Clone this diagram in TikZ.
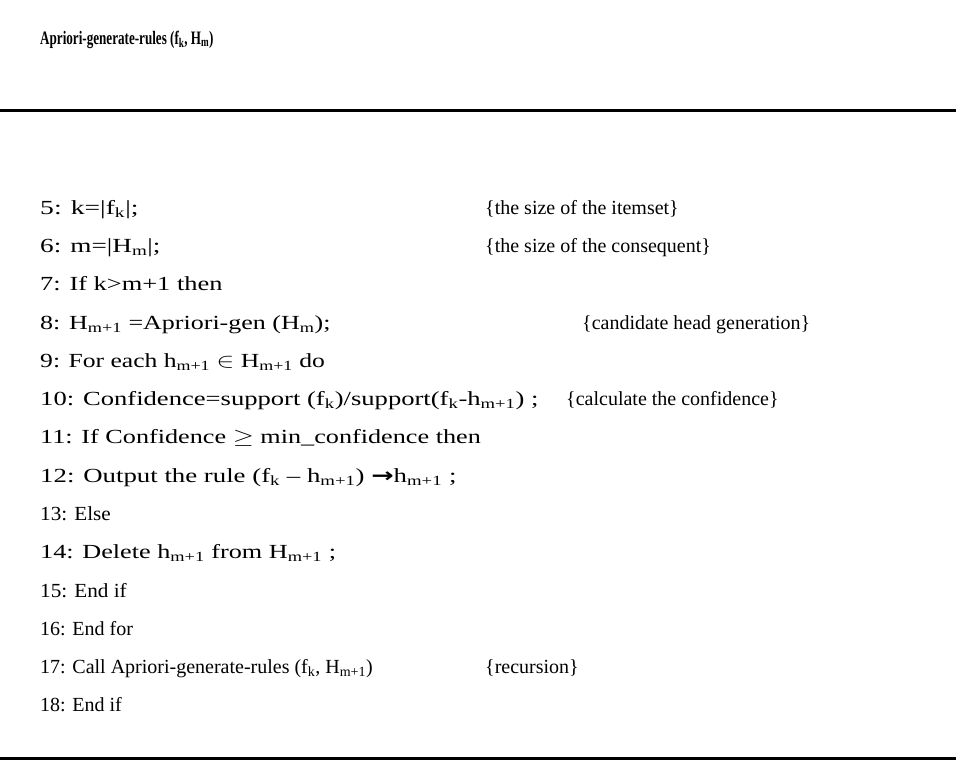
\documentclass[tikz,border=0pt]{standalone}
\usepackage{graphicx}
\usepackage{fontspec}
\setmainfont{Liberation Serif}
\newfontfamily\symfont{DejaVu Sans}
\newcommand{\sbs}[1]{\textsubscript{#1}}
% horizontally stretched text, glyph height unchanged
\newcommand{\stretchx}[2]{\scalebox{#1}[1]{#2}}
\begin{document}
\begin{tikzpicture}[x=1pt,y=-1pt,
  codeline/.style={anchor=base west,inner sep=0pt,font=\fontsize{20}{24}\selectfont},
  remark/.style={codeline},
  heading/.style={anchor=base west,inner sep=0pt,font=\fontsize{19}{22}\selectfont\bfseries},
  rulebar/.style={line width=3pt}]
\useasboundingbox (0,0) rectangle (956,782);
\fill[white] (0,0) rectangle (956,782);

% procedure header and rules
\node[heading] (title) at (40,44) {\stretchx{0.69}{Apriori-generate-rules (f\sbs{k}, H\sbs{m})}};
\coordinate (topL) at (0,110);
\coordinate (topR) at (956,110);
\coordinate (botL) at (0,758);
\coordinate (botR) at (956,758);
\draw[rulebar] (topL) -- (topR);
\draw[rulebar] (botL) -- (botR);

% numbered steps
\node[codeline] (l5)  at (40,214) {\stretchx{1.38}{5: k=|f\sbs{k}|;}};
\node[codeline] (l6)  at (40,252) {\stretchx{1.36}{6: m=|H\sbs{m}|;}};
\node[codeline] (l7)  at (40,290) {\stretchx{1.32}{7: If k>m+1 then}};
\node[codeline] (l8)  at (40,329) {\stretchx{1.30}{8: H\sbs{m+1} =Apriori-gen (H\sbs{m});}};
\node[codeline] (l9)  at (40,367) {\stretchx{1.28}{9: For each h\sbs{m+1} $\in$ H\sbs{m+1} do}};
\node[codeline] (l10) at (40,405) {\stretchx{1.33}{10: Confidence=support (f\sbs{k})/support(f\sbs{k}-h\sbs{m+1}) ;}};
\node[codeline] (l11) at (40,443) {\stretchx{1.31}{11: If Confidence $\geq$ min\_confidence then}};
\node[codeline] (l12) at (40,482) {\stretchx{1.34}{12: Output the rule (f\sbs{k} – h\sbs{m+1}) {\symfont\bfseries →}h\sbs{m+1} ;}};
\node[codeline] (l13) at (40,520) {\stretchx{1.06}{13: Else}};
\node[codeline] (l14) at (40,558) {\stretchx{1.31}{14: Delete h\sbs{m+1} from H\sbs{m+1} ;}};
\node[codeline] (l15) at (40,597) {\stretchx{1.06}{15: End if}};
\node[codeline] (l16) at (40,635) {16: End for};
\node[codeline] (l17) at (40,673) {17: Call Apriori-generate-rules (f\sbs{k}, H\sbs{m+1})};
\node[codeline] (l18) at (40,711) {18: End if};

% remarks
\node[remark] (r5)  at (485,214) {\{the size of the itemset\}};
\node[remark] (r6)  at (485,252) {\{the size of the consequent\}};
\node[remark] (r8)  at (582,329) {\{candidate head generation\}};
\node[remark] (r10) at (566,405) {\{calculate the confidence\}};
\node[remark] (r17) at (485,673) {\{recursion\}};
\end{tikzpicture}
\end{document}
